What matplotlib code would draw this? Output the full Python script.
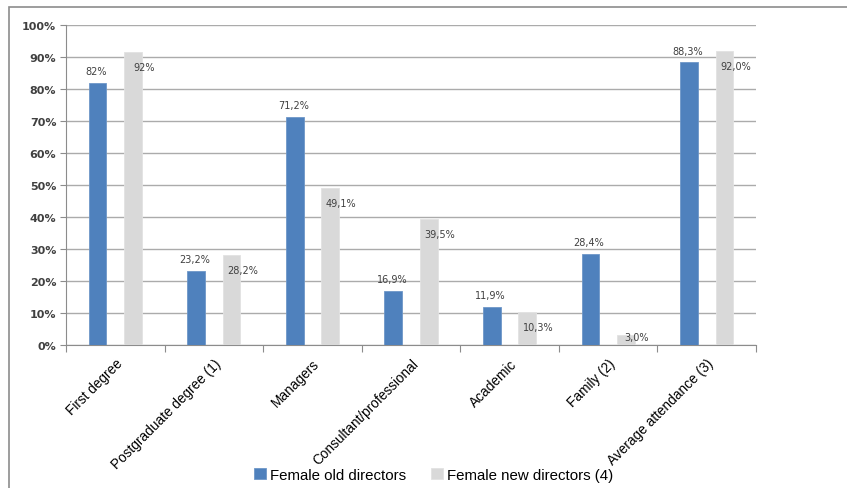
import matplotlib.pyplot as plt
import numpy as np
from matplotlib.patches import Rectangle

categories = ['First degree', 'Postgraduate degree (1)', 'Managers',
              'Consultant/professional', 'Academic', 'Family (2)',
              'Average attendance (3)']
old_directors = [82.0, 23.2, 71.2, 16.9, 11.9, 28.4, 88.3]
new_directors = [91.5, 28.2, 49.1, 39.5, 10.3, 3.0, 92.0]
old_labels = ['82%', '23,2%', '71,2%', '16,9%', '11,9%', '28,4%', '88,3%']
new_labels = ['92%', '28,2%', '49,1%', '39,5%', '10,3%', '3,0%', '92,0%']
series_names = ['Female old directors', 'Female new directors (4)']

blue = '#4F81BD'
grey = '#D9D9D9'
txt = '#404040'

fig = plt.figure(figsize=(8.47, 4.89), dpi=100)
ax = fig.add_axes([0.0779, 0.2924, 0.8147, 0.6544])

# outer chart frame (cut off at right and bottom)
fig.patches.append(Rectangle((9 / 847, -0.1), 1.2, 1 - 8 / 489 + 0.1,
                             transform=fig.transFigure, fill=False,
                             edgecolor='#8C8C8C', lw=1.2))

x = np.arange(len(categories))
w = 0.18
off = 0.18
b1 = ax.bar(x - off, old_directors, w, color=blue, edgecolor='#6E97C8',
            lw=0.6, label=series_names[0], zorder=3)
b2 = ax.bar(x + off, new_directors, w, color=grey, edgecolor='#E2E2E2',
            lw=0.6, label=series_names[1], zorder=3)

for xi, v, s in zip(x, old_directors, old_labels):
    ax.annotate(s, (xi - off, v), xytext=(-1, 5), textcoords='offset points',
                ha='center', va='bottom', fontsize=7, color=txt)
for xi, v, s in zip(x, new_directors, new_labels):
    dy = -11 if v > 8 else -1
    ax.annotate(s, (xi + off, v), xytext=(8, dy), textcoords='offset points',
                ha='center', va='center', fontsize=7, color=txt)

ax.set_xlim(-0.5, len(categories) - 0.5)
ax.set_ylim(0, 100)
ax.set_yticks(np.arange(0, 101, 10))
ax.set_yticklabels([f'{t}%' for t in range(0, 101, 10)],
                   fontfamily='DejaVu Sans', fontweight='bold',
                   fontsize=8, color=txt)
ax.grid(axis='y', color='#ABABAB', lw=1, zorder=0)

ax.set_xticks(np.arange(-0.5, len(categories), 1))
ax.set_xticklabels([])
ax.set_xticks(x, minor=True)
ax.set_xticklabels(categories, minor=True, rotation=45, ha='right',
                   va='top', rotation_mode='anchor', fontsize=9.8,
                   fontfamily='Liberation Sans', color='black')
ax.tick_params(axis='x', which='minor', length=0, pad=8)
ax.tick_params(axis='x', which='major', length=5, color='#8C8C8C')
ax.tick_params(axis='y', length=4, color='#8C8C8C', pad=3)

for side in ['top', 'right']:
    ax.spines[side].set_visible(False)
ax.spines['left'].set_color('#8C8C8C')
ax.spines['bottom'].set_color('#8C8C8C')

fig.legend(handles=[b1, b2], labels=series_names, loc='center',
           bbox_to_anchor=(0.512, 0.027), ncol=2, frameon=False,
           prop={'family': 'Liberation Sans', 'size': 10.8},
           handlelength=0.8, handleheight=0.8, handletextpad=0.3,
           columnspacing=1.6)

fig.savefig('out.png', dpi=100)
